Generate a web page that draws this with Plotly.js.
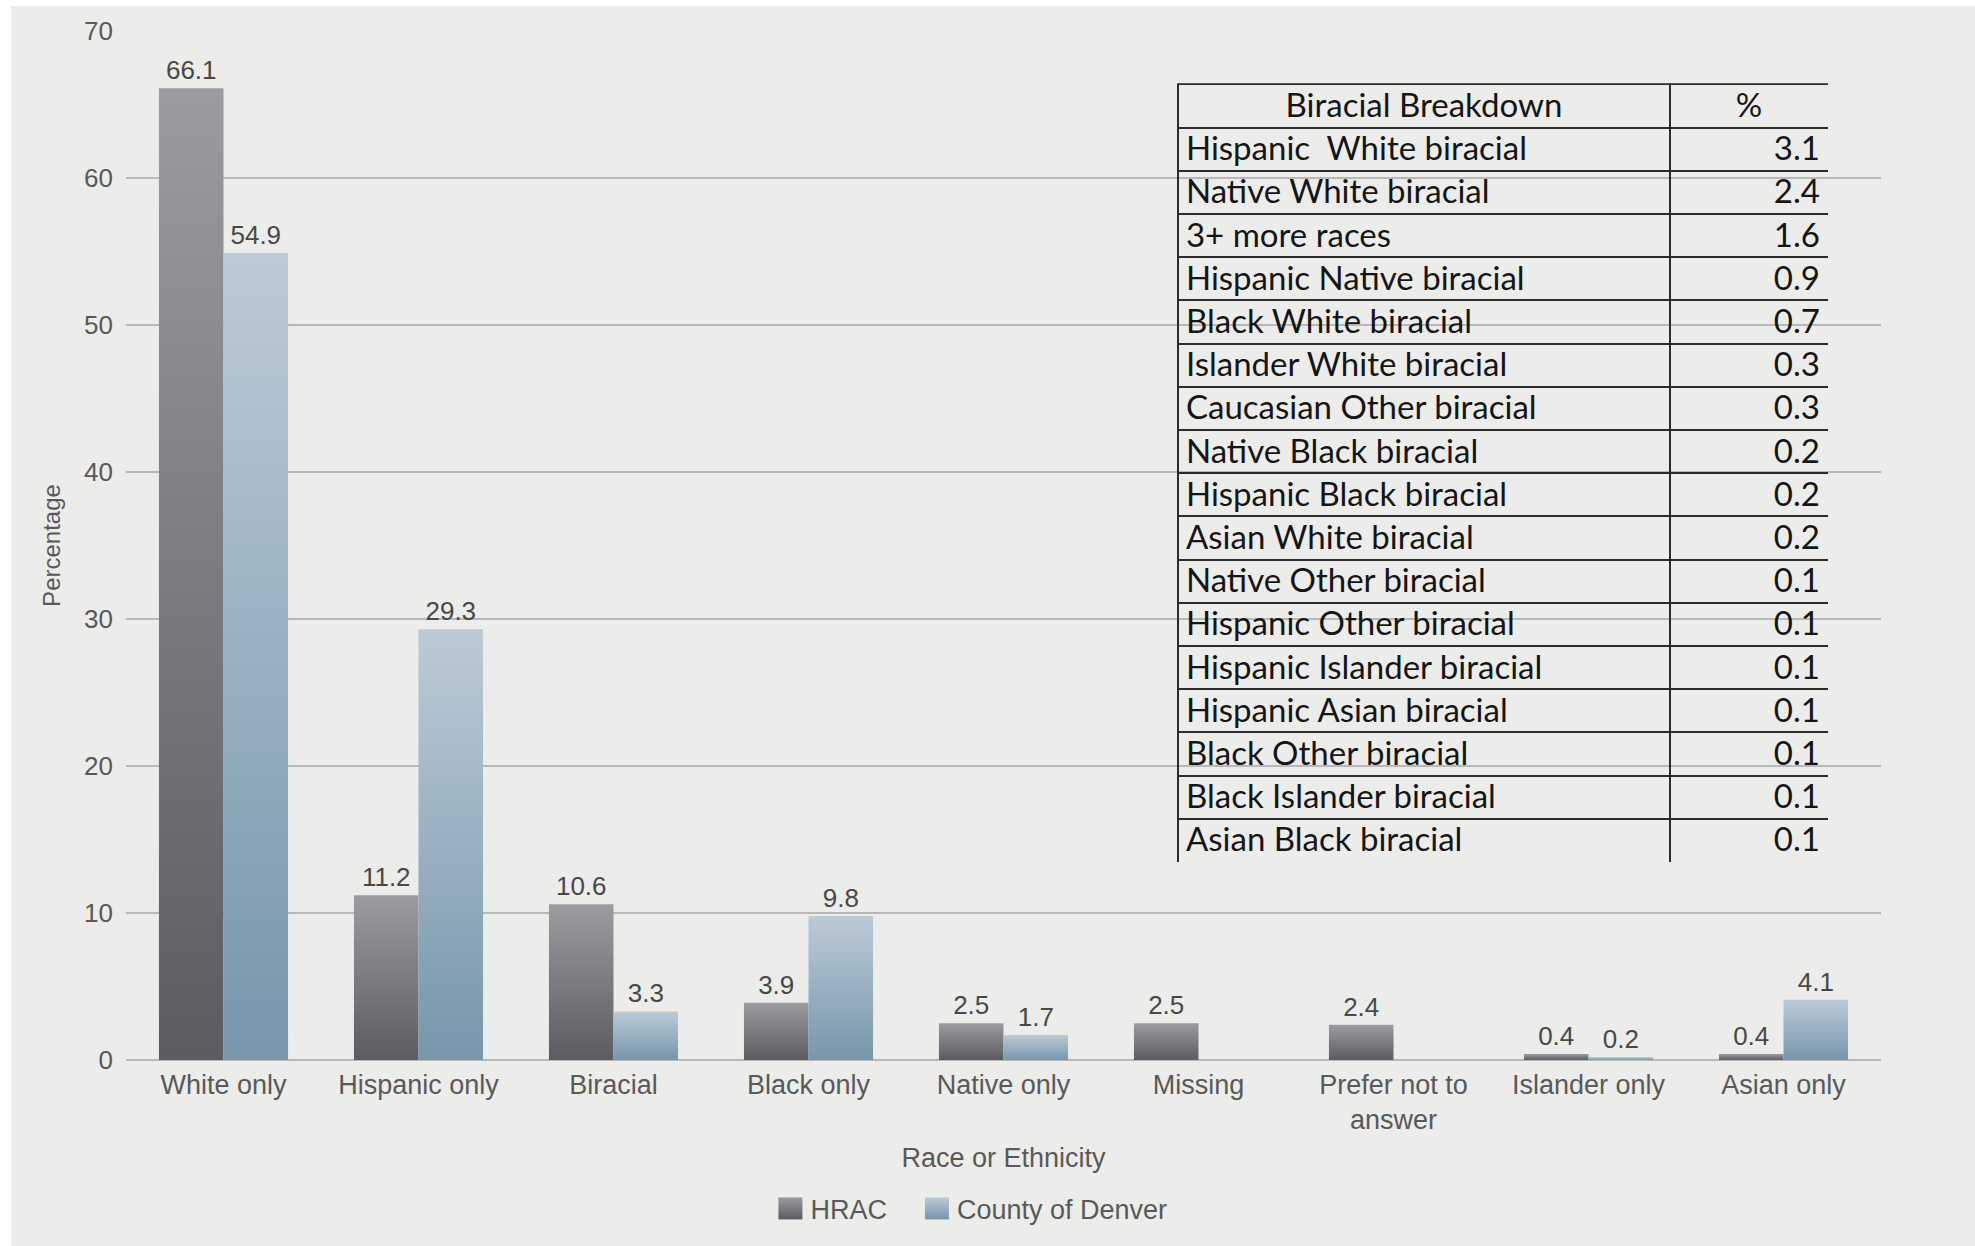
<!DOCTYPE html>
<html>
<head>
<meta charset="utf-8">
<script src="https://cdn.plot.ly/plotly-3.0.1.min.js"></script>
<style>
  html, body { margin: 0; padding: 0; background: #ffffff; }
  #chart { position: absolute; left: 11px; top: 6px; width: 1964px; height: 1240px; }
</style>
</head>
<body>
<div id="chart"></div>
<script>
// ---- data ----
const categories = ['White only', 'Hispanic only', 'Biracial', 'Black only', 'Native only',
                    'Missing', 'Prefer not to<br>answer', 'Islander only', 'Asian only'];
const hracValues = [66.1, 11.2, 10.6, 3.9, 2.5, 2.5, 2.4, 0.4, 0.4];
const denverValues = [54.9, 29.3, 3.3, 9.8, 1.7, null, null, 0.2, 4.1];
const seriesNames = ['HRAC', 'County of Denver'];
const yTickValues = [0, 10, 20, 30, 40, 50, 60, 70];

const tableHeader = ['Biracial Breakdown', '%'];
const biracialLabels = ['Hispanic  White biracial', 'Native White biracial', '3+ more races',
  'Hispanic Native biracial', 'Black White biracial', 'Islander White biracial',
  'Caucasian Other biracial', 'Native Black biracial', 'Hispanic Black biracial',
  'Asian White biracial', 'Native Other biracial', 'Hispanic Other biracial',
  'Hispanic Islander biracial', 'Hispanic Asian biracial', 'Black Other biracial',
  'Black Islander biracial', 'Asian Black biracial'];
const biracialValues = [3.1, 2.4, 1.6, 0.9, 0.7, 0.3, 0.3, 0.2, 0.2, 0.2, 0.1, 0.1, 0.1, 0.1, 0.1, 0.1, 0.1];

// ---- styling ----
const FONT = 'Liberation Sans, Arial, sans-serif';
const TXT = '#595959';
const GRID = '#b8b8b8';
const TFONT = { family: 'Lato, Carlito, sans-serif', size: 33, color: '#151515' };

const hracTrace = {
  type: 'bar', name: seriesNames[0], x: categories, y: hracValues,
  marker: { color: '#78777c' },
  texttemplate: '%{y:.1f}', textposition: 'outside', cliponaxis: false, constraintext: 'none',
  textfont: { family: FONT, size: 26, color: '#484848' },
  hoverinfo: 'none'
};
const denverTrace = {
  type: 'bar', name: seriesNames[1], x: categories, y: denverValues,
  marker: { color: '#98b0c2' },
  texttemplate: '%{y:.1f}', textposition: 'outside', cliponaxis: false, constraintext: 'none',
  textfont: { family: FONT, size: 26, color: '#484848' },
  hoverinfo: 'none'
};
const tableTrace = {
  type: 'table',
  domain: { x: [0.5994, 0.9698], y: [0.185, 0.9482] },
  columnwidth: [492, 158],
  header: {
    values: tableHeader,
    align: ['center', 'center'],
    height: 43.2,
    fill: { color: 'rgba(0,0,0,0)' },
    line: { color: '#2b2b2b', width: 2 },
    font: TFONT
  },
  cells: {
    values: [biracialLabels, biracialValues.map(v => v.toFixed(1))],
    align: ['left', 'right'],
    height: 43.2,
    fill: { color: 'rgba(0,0,0,0)' },
    line: { color: '#2b2b2b', width: 2 },
    font: TFONT
  }
};

const layout = {
  width: 1964, height: 1240,
  paper_bgcolor: '#ececea', plot_bgcolor: '#ececea',
  font: { family: FONT, color: TXT, size: 26 },
  margin: { l: 115, r: 94, t: 24.5, b: 182.5, pad: 0 },
  barmode: 'group', bargap: 0.338, bargroupgap: 0,
  showlegend: true,
  legend: {
    orientation: 'h', x: 0.4746, xanchor: 'center', y: -0.1447, yanchor: 'middle',
    font: { family: FONT, size: 27, color: TXT }, bgcolor: 'rgba(0,0,0,0)',
    itemwidth: 30, traceorder: 'normal'
  },
  xaxis: {
    type: 'category', showgrid: false, zeroline: false, showline: false, ticks: '',
    tickfont: { family: FONT, size: 27, color: TXT }, ticklabelstandoff: 6,
    title: { text: 'Race or Ethnicity', font: { family: FONT, size: 27, color: TXT }, standoff: 14 },
    fixedrange: true
  },
  yaxis: {
    range: [0, 70], tickvals: yTickValues, showgrid: true, gridcolor: GRID, gridwidth: 2.5,
    zeroline: true, zerolinecolor: GRID, zerolinewidth: 2.5, showline: false, ticks: '',
    tickfont: { family: FONT, size: 26, color: TXT }, ticklabelstandoff: 12,
    title: { text: 'Percentage', font: { family: FONT, size: 24, color: TXT }, standoff: 16 },
    fixedrange: true
  }
};

function addGradient(defs, id, top, bottom) {
  const ns = 'http://www.w3.org/2000/svg';
  const g = document.createElementNS(ns, 'linearGradient');
  g.setAttribute('id', id);
  g.setAttribute('x1', '0'); g.setAttribute('y1', '0');
  g.setAttribute('x2', '0'); g.setAttribute('y2', '1');
  [[0, top], [1, bottom]].forEach(([o, c]) => {
    const s = document.createElementNS(ns, 'stop');
    s.setAttribute('offset', String(o));
    s.setAttribute('stop-color', c);
    g.appendChild(s);
  });
  defs.appendChild(g);
}

// Open the table's right side and bottom edge like the original (no outer right / bottom rule)
function trimTableBorders() {
  const rects = Array.from(gd.querySelectorAll('.table rect')).filter(r => {
    const w = +r.getAttribute('width'), h = +r.getAttribute('height');
    return w > 20 && h > 20 && h < 80;
  });
  if (!rects.length) return;
  const boxes = rects.map(r => ({ r, b: r.getBoundingClientRect() }));
  const maxRight = Math.max(...boxes.map(o => o.b.right));
  const maxBottom = Math.max(...boxes.map(o => o.b.bottom));
  boxes.forEach(({ r, b }) => {
    const w = +r.getAttribute('width'), h = +r.getAttribute('height');
    const lastCol = Math.abs(b.right - maxRight) < 3;
    const lastRow = Math.abs(b.bottom - maxBottom) < 3;
    let dash = null;
    if (lastCol && lastRow) dash = [w, w + h, h];
    else if (lastCol) dash = [w, h, w + h];
    else if (lastRow) dash = [w + h, w, h];
    if (dash) r.style.strokeDasharray = dash.join(' ');
  });
}

const gd = document.getElementById('chart');
Plotly.newPlot(gd, [hracTrace, denverTrace, tableTrace], layout, { staticPlot: true, displayModeBar: false })
  .then(() => {
    const svg = gd.querySelector('.main-svg');
    let defs = svg.querySelector('defs');
    if (!defs) { defs = document.createElementNS('http://www.w3.org/2000/svg', 'defs'); svg.insertBefore(defs, svg.firstChild); }
    addGradient(defs, 'gradHRAC', '#9c9ba0', '#5c5b61');
    addGradient(defs, 'gradDenver', '#bccbd6', '#7796ac');
    const ids = ['gradHRAC', 'gradDenver'];
    gd.querySelectorAll('.barlayer .trace').forEach((t, i) => {
      t.querySelectorAll('.point path').forEach(p => { p.style.fill = 'url(#' + ids[i] + ')'; });
    });
    // legend: larger swatches, a little more room between the two entries, no clipping
    gd.querySelectorAll('.legend [clip-path]').forEach(el => el.removeAttribute('clip-path'));
    const legendItems = gd.querySelectorAll('.legend .traces');
    legendItems.forEach((t, i) => {
      t.querySelectorAll('.legendpoints path').forEach(p => {
        p.style.fill = 'url(#' + ids[i] + ')';
        p.setAttribute('d', 'M12,11H-12V-11H12Z');
        p.style.strokeWidth = '0';
      });
      if (i > 0) {
        const m = /translate\(\s*([-\d.]+)[ ,]+([-\d.]+)\s*\)/.exec(t.getAttribute('transform') || '');
        if (m) t.setAttribute('transform', 'translate(' + (parseFloat(m[1]) + 25 * i) + ',' + m[2] + ')');
      }
    });
    trimTableBorders();
  });
</script>
</body>
</html>
